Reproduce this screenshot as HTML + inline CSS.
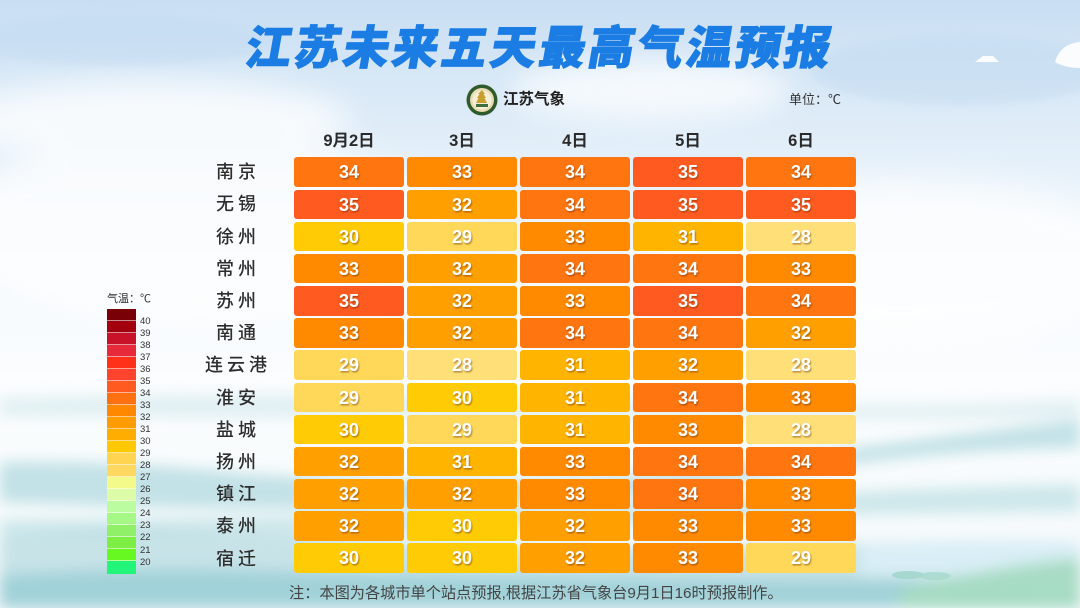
<!DOCTYPE html>
<html><head><meta charset="utf-8">
<style>
*{margin:0;padding:0;box-sizing:border-box}
html,body{width:1080px;height:608px;overflow:hidden}
body{font-family:"Liberation Sans","Noto Sans CJK SC",sans-serif;background:#f6fafd}
#wrap{position:relative;width:1080px;height:608px;overflow:hidden}
.bg{position:absolute;left:0;top:0;width:1080px;height:608px;display:block}
.abs{position:absolute}
.title{position:absolute;left:0;top:20px;width:1080px;text-align:center;font-size:46px;line-height:56px;font-weight:900;color:#1b7de4;letter-spacing:3px;font-family:"Liberation Sans","Noto Sans CJK SC",sans-serif;transform:skewX(-10deg);-webkit-text-stroke:1px #1b7de4}
.cell{position:absolute;width:110px;height:29.5px;border-radius:3px;color:#fff;font-weight:bold;font-size:18px;line-height:30px;text-align:center;text-shadow:1px 1.5px 1.5px rgba(90,40,0,0.45)}
.rl{position:absolute;left:196px;width:80px;height:30px;line-height:30px;text-align:center;font-size:18px;color:#2e2e2e;letter-spacing:4px;padding-left:4px;font-weight:500}
.ch{position:absolute;top:130px;width:110px;text-align:center;font-size:16.5px;font-weight:bold;color:#2a2a2a;line-height:22px}
.sw{position:absolute;left:107px;width:29px;height:12px;border-bottom:1px solid rgba(255,255,255,0.55)}
.ll{position:absolute;left:140px;font-size:9.5px;color:#333;line-height:10px}
</style></head><body><div id="wrap">
<svg class="bg" width="1080" height="608" viewBox="0 0 1080 608">
<defs>
<linearGradient id="sky" x1="0" y1="0" x2="0" y2="1">
<stop offset="0" stop-color="#c9def3"/>
<stop offset="0.12" stop-color="#d6e7f6"/>
<stop offset="0.3" stop-color="#e8f2fa"/>
<stop offset="0.5" stop-color="#f6fafd"/>
<stop offset="0.62" stop-color="#fbfdfe"/>
<stop offset="1" stop-color="#f4f9fb"/>
</linearGradient>
<filter id="b8" x="-20%" y="-50%" width="140%" height="200%"><feGaussianBlur stdDeviation="7"/></filter>
<filter id="b4"><feGaussianBlur stdDeviation="4"/></filter>
<filter id="b15" x="-30%" y="-50%" width="160%" height="200%"><feGaussianBlur stdDeviation="15"/></filter>
</defs>
<rect width="1080" height="608" fill="url(#sky)"/>
<g filter="url(#b15)" fill="#ffffff" opacity="0.75">
<ellipse cx="150" cy="120" rx="200" ry="40"/>
<ellipse cx="200" cy="230" rx="260" ry="90"/>
<ellipse cx="900" cy="260" rx="250" ry="80"/>
<ellipse cx="650" cy="90" rx="140" ry="30"/>
</g>
<g filter="url(#b4)" fill="#c3dbf1" opacity="0.5">
<ellipse cx="120" cy="40" rx="160" ry="25"/>
<ellipse cx="960" cy="70" rx="150" ry="35"/>
</g>
<path d="M975 62 l8 -6 h10 l6 6z" fill="#fff" opacity="0.9"/>
<path d="M1055 62 q5 -18 25 -20 v26 q-15 0 -25 -6z" fill="#fff" opacity="0.9"/>
<g filter="url(#b8)">
<path d="M0 398 Q300 390 600 400 Q900 410 1080 400 L1080 418 Q700 420 0 416Z" fill="#d5e9ee" opacity="0.7"/>
<path d="M0 462 Q120 460 250 474 Q500 490 700 470 Q900 440 1080 420 L1080 448 Q900 450 700 488 Q450 520 0 502Z" fill="#b8dde3" opacity="0.85"/>
<path d="M0 520 Q300 520 600 505 Q850 490 1080 484 L1080 512 Q850 512 600 525 Q300 540 0 540Z" fill="#c6e4e8" opacity="0.85"/>
<path d="M0 540 Q80 520 200 530 Q500 555 800 545 Q950 540 1080 542 L1080 608 L0 608Z" fill="#c2e1e6" opacity="0.9"/>
<path d="M0 575 Q150 565 300 572 Q600 580 900 580 L1080 590 L1080 608 L0 608Z" fill="#9fd0d7" opacity="0.9"/>
<path d="M860 545 Q960 538 1080 542 L1080 575 Q960 572 860 575Z" fill="#dcf0f7" opacity="0.9"/>
<path d="M900 590 Q1000 565 1080 558 L1080 608 L900 608Z" fill="#a6dbc2" opacity="0.95"/>
</g>
<ellipse cx="908" cy="575" rx="16" ry="4" fill="#9dd5c8" opacity="0.8"/>
<ellipse cx="935" cy="576" rx="16" ry="4" fill="#a6d8cc" opacity="0.8"/>
<circle cx="482" cy="100" r="15.5" fill="#2f5b2c"/>
<circle cx="482" cy="100" r="12" fill="#e8dcb0"/>
<circle cx="482" cy="100" r="9.5" fill="#f4efd8"/>
<path d="M482 90 l3 4 h-1.5 l2.5 4 h-1.5 l2.5 5 h-11 l2.5 -5 h-1.5 l2.5 -4 h-1.5z" fill="#c9a030"/>
<rect x="476" y="104" width="12" height="3" fill="#3e6e3a"/>
</svg>

<div class="title">江苏未来五天最高气温预报</div>
<div class="abs" style="left:503px;top:90px;font-size:15.5px;font-weight:bold;color:#222;line-height:20px">江苏气象</div>
<div class="abs" style="left:789px;top:91px;font-size:13px;color:#333;line-height:18px">单位：℃</div>

<div class="ch" style="left:294px">9月2日</div>
<div class="ch" style="left:407px">3日</div>
<div class="ch" style="left:520px">4日</div>
<div class="ch" style="left:633px">5日</div>
<div class="ch" style="left:746px">6日</div>

<div class="abs" style="left:107px;top:292px;font-size:11px;color:#333;line-height:14px">气温：℃</div>

<div class="abs" style="left:289px;top:585px;font-size:15.2px;color:#444;line-height:17px;white-space:nowrap">注：本图为各城市单个站点预报,根据江苏省气象台9月1日16时预报制作。</div>

<div class="rl" style="top:157px">南京</div>
<div class="rl" style="top:189px">无锡</div>
<div class="rl" style="top:221.5px">徐州</div>
<div class="rl" style="top:253.7px">常州</div>
<div class="rl" style="top:286px">苏州</div>
<div class="rl" style="top:318px">南通</div>
<div class="rl" style="top:350px">连云港</div>
<div class="rl" style="top:382.5px">淮安</div>
<div class="rl" style="top:414.7px">盐城</div>
<div class="rl" style="top:447px">扬州</div>
<div class="rl" style="top:479px">镇江</div>
<div class="rl" style="top:511px">泰州</div>
<div class="rl" style="top:543.5px">宿迁</div>

<div class="cell" style="left:294px;top:157.3px;background:#ff7510">34</div><div class="cell" style="left:407px;top:157.3px;background:#ff8a00">33</div><div class="cell" style="left:520px;top:157.3px;background:#ff7510">34</div><div class="cell" style="left:633px;top:157.3px;background:#ff5a1f">35</div><div class="cell" style="left:746px;top:157.3px;background:#ff7510">34</div>
<div class="cell" style="left:294px;top:189.5px;background:#ff5a1f">35</div><div class="cell" style="left:407px;top:189.5px;background:#ff9f00">32</div><div class="cell" style="left:520px;top:189.5px;background:#ff7510">34</div><div class="cell" style="left:633px;top:189.5px;background:#ff5a1f">35</div><div class="cell" style="left:746px;top:189.5px;background:#ff5a1f">35</div>
<div class="cell" style="left:294px;top:221.6px;background:#ffcb05">30</div><div class="cell" style="left:407px;top:221.6px;background:#ffd85a">29</div><div class="cell" style="left:520px;top:221.6px;background:#ff8a00">33</div><div class="cell" style="left:633px;top:221.6px;background:#ffb400">31</div><div class="cell" style="left:746px;top:221.6px;background:#ffdf78">28</div>
<div class="cell" style="left:294px;top:253.8px;background:#ff8a00">33</div><div class="cell" style="left:407px;top:253.8px;background:#ff9f00">32</div><div class="cell" style="left:520px;top:253.8px;background:#ff7510">34</div><div class="cell" style="left:633px;top:253.8px;background:#ff7510">34</div><div class="cell" style="left:746px;top:253.8px;background:#ff8a00">33</div>
<div class="cell" style="left:294px;top:286px;background:#ff5a1f">35</div><div class="cell" style="left:407px;top:286px;background:#ff9f00">32</div><div class="cell" style="left:520px;top:286px;background:#ff8a00">33</div><div class="cell" style="left:633px;top:286px;background:#ff5a1f">35</div><div class="cell" style="left:746px;top:286px;background:#ff7510">34</div>
<div class="cell" style="left:294px;top:318.2px;background:#ff8a00">33</div><div class="cell" style="left:407px;top:318.2px;background:#ff9f00">32</div><div class="cell" style="left:520px;top:318.2px;background:#ff7510">34</div><div class="cell" style="left:633px;top:318.2px;background:#ff7510">34</div><div class="cell" style="left:746px;top:318.2px;background:#ff9f00">32</div>
<div class="cell" style="left:294px;top:350.3px;background:#ffd85a">29</div><div class="cell" style="left:407px;top:350.3px;background:#ffdf78">28</div><div class="cell" style="left:520px;top:350.3px;background:#ffb400">31</div><div class="cell" style="left:633px;top:350.3px;background:#ff9f00">32</div><div class="cell" style="left:746px;top:350.3px;background:#ffdf78">28</div>
<div class="cell" style="left:294px;top:382.5px;background:#ffd85a">29</div><div class="cell" style="left:407px;top:382.5px;background:#ffcb05">30</div><div class="cell" style="left:520px;top:382.5px;background:#ffb400">31</div><div class="cell" style="left:633px;top:382.5px;background:#ff7510">34</div><div class="cell" style="left:746px;top:382.5px;background:#ff8a00">33</div>
<div class="cell" style="left:294px;top:414.7px;background:#ffcb05">30</div><div class="cell" style="left:407px;top:414.7px;background:#ffd85a">29</div><div class="cell" style="left:520px;top:414.7px;background:#ffb400">31</div><div class="cell" style="left:633px;top:414.7px;background:#ff8a00">33</div><div class="cell" style="left:746px;top:414.7px;background:#ffdf78">28</div>
<div class="cell" style="left:294px;top:446.8px;background:#ff9f00">32</div><div class="cell" style="left:407px;top:446.8px;background:#ffb400">31</div><div class="cell" style="left:520px;top:446.8px;background:#ff8a00">33</div><div class="cell" style="left:633px;top:446.8px;background:#ff7510">34</div><div class="cell" style="left:746px;top:446.8px;background:#ff7510">34</div>
<div class="cell" style="left:294px;top:479px;background:#ff9f00">32</div><div class="cell" style="left:407px;top:479px;background:#ff9f00">32</div><div class="cell" style="left:520px;top:479px;background:#ff8a00">33</div><div class="cell" style="left:633px;top:479px;background:#ff7510">34</div><div class="cell" style="left:746px;top:479px;background:#ff8a00">33</div>
<div class="cell" style="left:294px;top:511.2px;background:#ff9f00">32</div><div class="cell" style="left:407px;top:511.2px;background:#ffcb05">30</div><div class="cell" style="left:520px;top:511.2px;background:#ff9f00">32</div><div class="cell" style="left:633px;top:511.2px;background:#ff8a00">33</div><div class="cell" style="left:746px;top:511.2px;background:#ff8a00">33</div>
<div class="cell" style="left:294px;top:543.3px;background:#ffcb05">30</div><div class="cell" style="left:407px;top:543.3px;background:#ffcb05">30</div><div class="cell" style="left:520px;top:543.3px;background:#ff9f00">32</div><div class="cell" style="left:633px;top:543.3px;background:#ff8a00">33</div><div class="cell" style="left:746px;top:543.3px;background:#ffd85a">29</div>

<div class="sw" style="top:309px;background:#7a0008"></div>
<div class="sw" style="top:321px;background:#a3000e"></div>
<div class="sw" style="top:333px;background:#c8122a"></div>
<div class="sw" style="top:345px;background:#e62a3a"></div>
<div class="sw" style="top:357px;background:#ff3219"></div>
<div class="sw" style="top:369px;background:#ff442e"></div>
<div class="sw" style="top:381px;background:#ff5a20"></div>
<div class="sw" style="top:393px;background:#ff7010"></div>
<div class="sw" style="top:405px;background:#ff8800"></div>
<div class="sw" style="top:417px;background:#ff9c00"></div>
<div class="sw" style="top:429px;background:#ffae00"></div>
<div class="sw" style="top:441px;background:#ffc800"></div>
<div class="sw" style="top:453px;background:#ffd450"></div>
<div class="sw" style="top:465px;background:#ffd862"></div>
<div class="sw" style="top:477px;background:#f4fa8a"></div>
<div class="sw" style="top:489px;background:#ddfca8"></div>
<div class="sw" style="top:501px;background:#bcfca0"></div>
<div class="sw" style="top:513px;background:#a6f886"></div>
<div class="sw" style="top:525px;background:#90f068"></div>
<div class="sw" style="top:537px;background:#7cee44"></div>
<div class="sw" style="top:549px;background:#66f820"></div>
<div class="sw" style="top:561px;height:12.5px;border:none;background:#22f57a"></div>

<div class="ll" style="top:317px">40</div>
<div class="ll" style="top:329px">39</div>
<div class="ll" style="top:341px">38</div>
<div class="ll" style="top:353px">37</div>
<div class="ll" style="top:365px">36</div>
<div class="ll" style="top:377px">35</div>
<div class="ll" style="top:389px">34</div>
<div class="ll" style="top:401px">33</div>
<div class="ll" style="top:413px">32</div>
<div class="ll" style="top:425px">31</div>
<div class="ll" style="top:437px">30</div>
<div class="ll" style="top:449px">29</div>
<div class="ll" style="top:461px">28</div>
<div class="ll" style="top:473px">27</div>
<div class="ll" style="top:485px">26</div>
<div class="ll" style="top:497px">25</div>
<div class="ll" style="top:509px">24</div>
<div class="ll" style="top:521px">23</div>
<div class="ll" style="top:533px">22</div>
<div class="ll" style="top:546px">21</div>
<div class="ll" style="top:558px">20</div>
</div></body></html>
